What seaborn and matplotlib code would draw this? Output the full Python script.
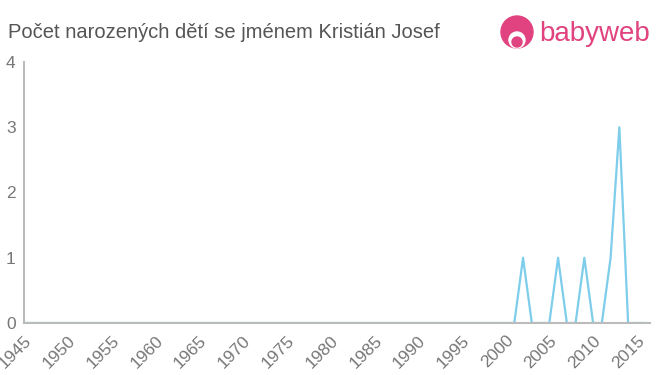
import matplotlib
matplotlib.use("Agg")
import matplotlib.pyplot as plt
import seaborn as sns
import pandas as pd
from matplotlib.patches import Ellipse

years = list(range(1945, 2017))
spikes = {2002: 1, 2006: 1, 2009: 1, 2012: 1, 2013: 3}
counts = [spikes.get(y, 0) for y in years]
xticks = list(range(1945, 2016, 5))
yticks = [0, 1, 2, 3, 4]
title = "Počet narozených dětí se jménem Kristián Josef"

sns.set_style("white")
plt.rcParams['font.family'] = ['Liberation Sans', 'DejaVu Sans']

W, H = 660, 375
df = pd.DataFrame({"year": years, "count": counts})
fig = plt.figure(figsize=(6.6, 3.75), dpi=100)
ax = fig.add_axes([24 / W, 52 / H, 626 / W, 261 / H])
sns.lineplot(data=df, x="year", y="count", ax=ax, color="#7dcdeb", linewidth=1.6)
ax.set_xlim(1945, 2016.5)
ax.set_ylim(0, 4)
ax.set_xticks(xticks)
ax.set_yticks(yticks)
ax.set_xticklabels([str(t) for t in xticks], rotation=45, ha="right", rotation_mode="anchor")
ax.tick_params(axis="both", colors="#777777", labelsize=12.5, length=4, width=1)
ax.tick_params(axis="x", pad=3)
ax.tick_params(axis="y", pad=2)
ax.set_xlabel("")
ax.set_ylabel("")
for s in ["top", "right"]:
    ax.spines[s].set_visible(False)
for s in ["left", "bottom"]:
    ax.spines[s].set_color("#bbbbbb")
    ax.spines[s].set_linewidth(1.5)
ax.grid(False)

fig.text(8 / W, 1 - 33 / H, title, fontsize=14.5, color="#555555", ha="left", va="center")

# logo
pink = "#e0437f"
def circ(cx, cy, r, color):
    fig.patches.append(Ellipse((cx / W, 1 - cy / H), 2 * r / W, 2 * r / H,
                               transform=fig.transFigure, color=color))
circ(517, 32, 16, pink)
circ(517, 40, 8, "white")
circ(517, 42, 5, pink)
fig.text(539 / W, 1 - 34 / H, "babyweb", fontsize=20, color=pink, ha="left", va="center")

fig.savefig("out.png", dpi=100)
